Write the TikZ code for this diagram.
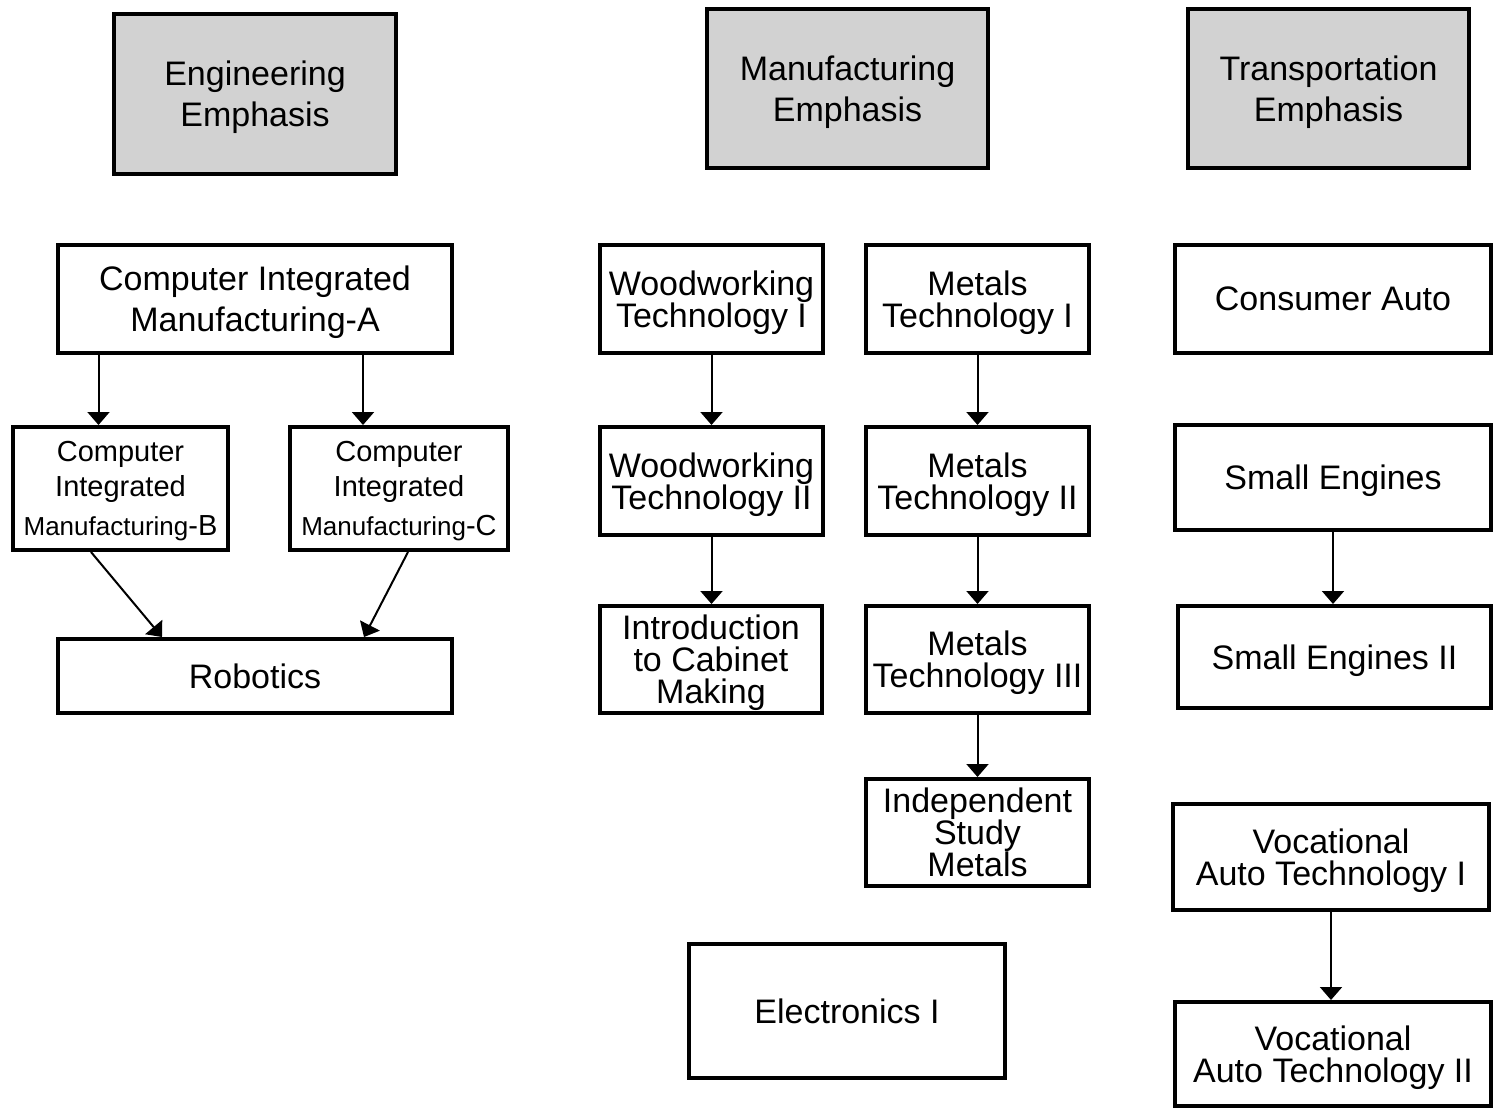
\documentclass[tikz,border=0pt]{standalone}
\usepackage{fontspec}
\setmainfont{Liberation Sans}
\usetikzlibrary{arrows.meta}

\tikzset{
  course/.style={draw,line width=2pt,fill=white,align=center,inner sep=0pt,text depth=0pt,
    font=\fontsize{17}{16}\selectfont},
  loose/.style={font=\fontsize{17}{20.5}\selectfont},
  emph/.style={course,loose,fill=gray!35},
  arr/.style={line width=1pt,-{Triangle[width=11pt,length=6.5pt]}}
}

\begin{document}
\begin{tikzpicture}[x=0.5pt,y=-0.5pt]

    % keep the page the size of the chart
    \useasboundingbox (0,0) rectangle (1504,1110);

    % the three emphasis headings
    \node [emph,minimum width=141pt,minimum height=80pt] (engH) at (255,94) {Engineering\\Emphasis};
    \node [emph,minimum width=140.5pt,minimum height=79.5pt] (mfgH) at (847.5,88.5) {Manufacturing\\Emphasis};
    \node [emph,minimum width=140.5pt,minimum height=79.5pt] (trnH) at (1328.5,88.5) {Transportation\\Emphasis};

    % engineering courses
    \node [course,loose,minimum width=197pt,minimum height=54pt] (cimA) at (255,299) {Computer Integrated\\Manufacturing-A};
    \node [course,minimum width=107.5pt,minimum height=61.5pt,font=\fontsize{14.5}{17.5}\selectfont] (cimB) at (120.5,488.5)
      {Computer\\Integrated\\[2pt]{\fontsize{13}{15}\selectfont Manufacturing}-B};
    \node [course,minimum width=109pt,minimum height=61.5pt,font=\fontsize{14.5}{17.5}\selectfont] (cimC) at (399,488.5)
      {Computer\\Integrated\\[2pt]{\fontsize{13}{15}\selectfont Manufacturing}-C};
    \node [course,minimum width=197pt,minimum height=37pt] (robot) at (255,676) {Robotics};

    % manufacturing courses
    \node [course,minimum width=111.5pt,minimum height=54pt] (wood1) at (711.5,299) {Woodworking\\Technology I};
    \node [course,minimum width=111.5pt,minimum height=54pt] (wood2) at (711.5,481) {Woodworking\\Technology II};
    \node [course,minimum width=111pt,minimum height=53.5pt] (cabinet) at (711,659.5) {Introduction\\to Cabinet\\Making};
    \node [course,minimum width=111.5pt,minimum height=54pt] (metal1) at (977.5,299) {Metals\\Technology I};
    \node [course,minimum width=111.5pt,minimum height=54pt] (metal2) at (977.5,481) {Metals\\Technology II};
    \node [course,minimum width=111.5pt,minimum height=53.5pt] (metal3) at (977.5,659.5) {Metals\\Technology III};
    \node [course,minimum width=111.5pt,minimum height=53.5pt] (indep) at (977.5,832.5) {Independent\\Study\\Metals};
    \node [course,minimum width=158pt,minimum height=67pt] (elec) at (847,1011) {Electronics I};

    % transportation courses
    \node [course,minimum width=158pt,minimum height=54pt] (auto) at (1333,299) {Consumer Auto};
    \node [course,minimum width=158pt,minimum height=52.5pt] (eng1) at (1333,477.5) {Small Engines};
    \node [course,minimum width=156.5pt,minimum height=51pt] (eng2) at (1334.5,657) {Small Engines II};
    \node [course,minimum width=158pt,minimum height=53pt] (voc1) at (1331,857) {Vocational\\Auto Technology I};
    \node [course,minimum width=158pt,minimum height=52pt] (voc2) at (1333,1054) {Vocational\\Auto Technology II};

    % prerequisite arrows
    \draw [arr] ([xshift=-11pt]cimB.north |- cimA.south) -- ([xshift=-11pt]cimB.north);
    \draw [arr] ([xshift=-18pt]cimC.north |- cimA.south) -- ([xshift=-18pt]cimC.north);
    \draw [arr] ([xshift=-14.75pt]cimB.south) -- ([xshift=-46.5pt]robot.north);
    \draw [arr] ([xshift=4.5pt]cimC.south) -- ([xshift=54.5pt]robot.north);
    \foreach \a/\b in {wood1/wood2,wood2/cabinet,metal1/metal2,metal2/metal3,metal3/indep,eng1/eng2,voc1/voc2}
      \draw [arr] (\a.south) -- (\a.south |- \b.north);

\end{tikzpicture}
\end{document}
